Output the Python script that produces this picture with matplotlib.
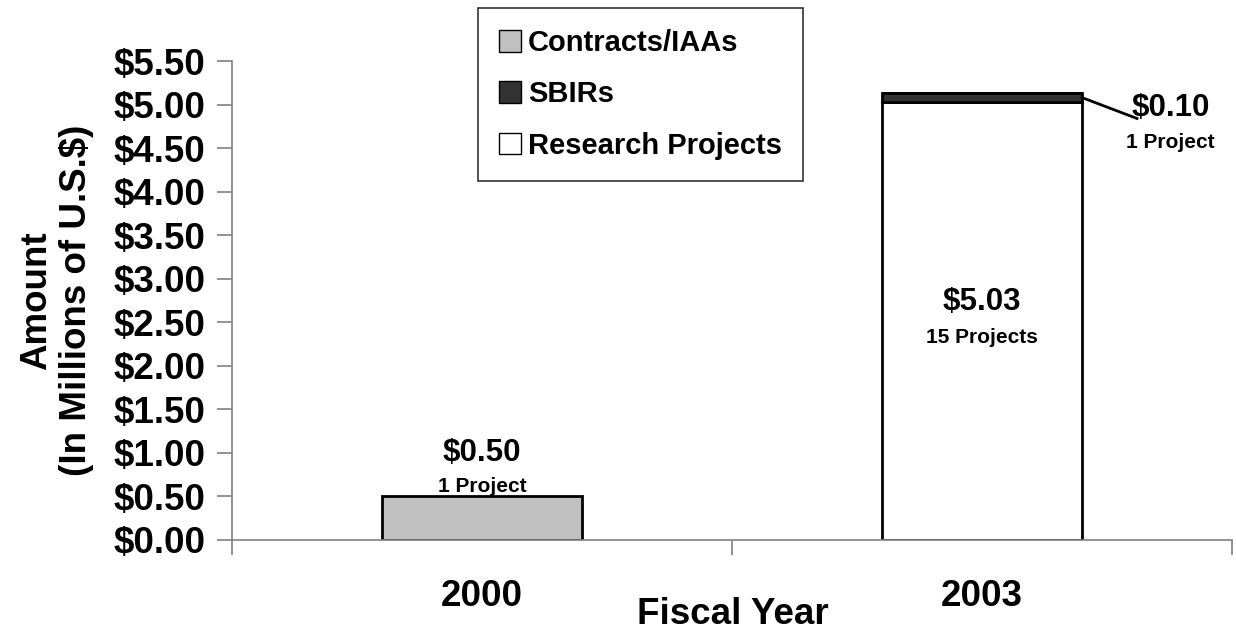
import numpy as np
import matplotlib
matplotlib.use('Agg')
import matplotlib.pyplot as plt
from matplotlib.patches import Patch

plt.rcParams['font.family'] = ['Liberation Sans', 'DejaVu Sans']
plt.rcParams['font.weight'] = 'bold'

years = ['2000', '2003']
research = [0.0, 5.03]
sbirs = [0.0, 0.10]
contracts = [0.50, 0.0]
yticks = np.arange(0, 5.51, 0.5)

x = np.arange(len(years))
w = 0.4

fig = plt.figure(figsize=(12.36, 6.35), dpi=100)
ax = fig.add_axes([232/1236, 95/635, 1000/1236, 479/635])

# stacked: research at bottom, then sbirs, then contracts
ax.bar(x, research, w, color='white', edgecolor='black', linewidth=2)
ax.bar(x, sbirs, w, bottom=research, color='#333333', edgecolor='black', linewidth=2)
b3 = np.array(research) + np.array(sbirs)
ax.bar(x, contracts, w, bottom=b3, color='#c0c0c0', edgecolor='black', linewidth=2)

ax.set_xlim(-0.5, 1.5)
ax.set_ylim(0, 5.5)
ax.set_yticks(yticks)
ax.set_yticklabels(['$%.2f' % v for v in yticks], fontsize=26.5, fontweight='bold')
ax.set_xticks(x)
ax.set_xticklabels(years, fontsize=26.5, fontweight='bold')
ax.tick_params(axis='x', length=0, pad=28)
ax.set_xticks([-0.5, 0.5, 1.5], minor=True)
ax.tick_params(axis='x', which='minor', length=11, color='#808080', width=1.2)
ax.tick_params(axis='y', length=11, color='#808080', width=1.2, pad=8)

for s in ['top', 'right']:
    ax.spines[s].set_visible(False)
for s in ['left', 'bottom']:
    ax.spines[s].set_color('#808080')
    ax.spines[s].set_linewidth(1.2)

ax.set_ylabel('Amount\n(In Millions of U.S.$)', fontsize=26.5, fontweight='bold',
              labelpad=14, linespacing=1.2)
fig.text(733/1236, 1 - 614/635, 'Fiscal Year', ha='center', va='center',
         fontsize=26.5, fontweight='bold')

# labels
ax.text(0, 1.0, '$%.2f' % contracts[0], ha='center', va='center', fontsize=22.5, fontweight='bold')
ax.text(0, 0.61, '1 Project', ha='center', va='center', fontsize=15, fontweight='bold')
ax.text(1, 2.73, '$%.2f' % research[1], ha='center', va='center', fontsize=22.5, fontweight='bold')
ax.text(1, 2.32, '15 Projects', ha='center', va='center', fontsize=15, fontweight='bold')
ax.plot([1 + w/2, 1.31], [research[1] + sbirs[1]/2, 4.84], color='black', lw=2, clip_on=False)
ax.text(1.377, 4.96, '$%.2f' % sbirs[1], ha='center', va='center', fontsize=22.5, fontweight='bold')
ax.text(1.377, 4.56, '1 Project', ha='center', va='center', fontsize=15, fontweight='bold')

handles = [Patch(facecolor='#c0c0c0', edgecolor='black', label='Contracts/IAAs'),
           Patch(facecolor='#333333', edgecolor='black', label='SBIRs'),
           Patch(facecolor='white', edgecolor='black', label='Research Projects')]
leg = fig.legend(handles=handles, loc='upper left', bbox_to_anchor=(478/1236, 1 - 8/635),
                 prop={'size': 21, 'weight': 'bold'}, frameon=True, fancybox=False,
                 edgecolor='black', handlelength=0.75, handleheight=0.75, handletextpad=0.25,
                 labelspacing=0.8, borderpad=0.72, borderaxespad=0)
leg.get_frame().set_linewidth(1.2)

fig.savefig('out.png', dpi=100)
